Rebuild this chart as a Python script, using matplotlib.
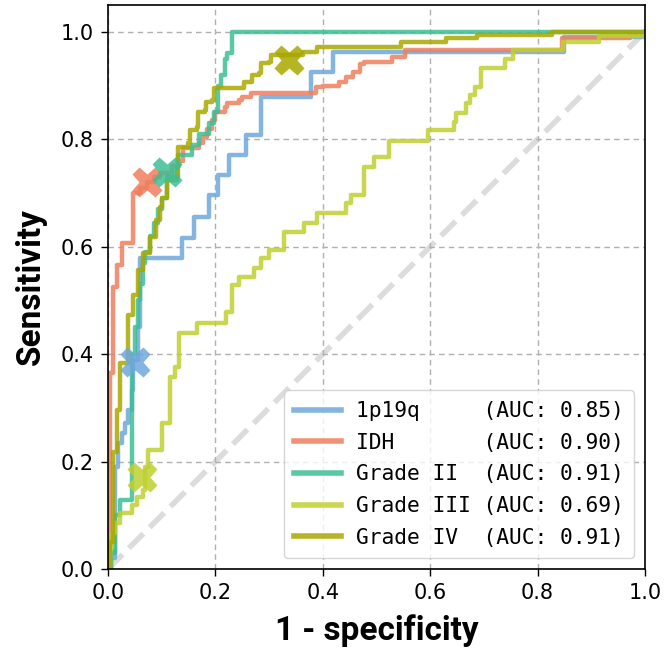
import matplotlib
matplotlib.use("Agg")
import matplotlib.pyplot as plt

# ---------------- data (ROC staircase corners: fpr, tpr) ----------------
names = ["1p19q", "IDH", "Grade II", "Grade III", "Grade IV"]
aucs = [0.85, 0.90, 0.91, 0.69, 0.91]
colors = ["#6fa8dc", "#ef7f5f", "#3dbd95", "#bfd130", "#a8a800"]

fpr_1p19q = [0.0, 0.005, 0.013, 0.019, 0.026, 0.031, 0.037, 0.044, 0.046, 0.055, 0.059,
             0.137, 0.161, 0.189, 0.204, 0.226, 0.257, 0.285, 0.378, 0.419, 0.85, 1.0]
tpr_1p19q = [0.0, 0.02, 0.19, 0.235, 0.253, 0.272, 0.296, 0.333, 0.39, 0.45, 0.579,
             0.616, 0.656, 0.696, 0.734, 0.771, 0.808, 0.879, 0.925, 0.963, 0.99, 1.0]

fpr_idh = [0.0, 0.003, 0.01, 0.017, 0.026, 0.046, 0.06, 0.072, 0.085, 0.096, 0.12, 0.133,
           0.139, 0.170, 0.176, 0.185, 0.193, 0.2, 0.217, 0.222, 0.244, 0.25, 0.267,
           0.387, 0.40, 0.43, 0.444, 0.457, 0.47, 0.476, 0.528, 0.554, 0.846, 0.972, 1.0]
tpr_idh = [0.0, 0.365, 0.525, 0.566, 0.607, 0.70, 0.71, 0.72, 0.73, 0.737, 0.75, 0.76,
           0.784, 0.793, 0.805, 0.82, 0.836, 0.85, 0.86, 0.868, 0.873, 0.879, 0.886,
           0.898, 0.90, 0.907, 0.916, 0.925, 0.94, 0.944, 0.954, 0.967, 0.989, 0.994, 1.0]

fpr_g2 = [0.0, 0.005, 0.013, 0.022, 0.045, 0.05, 0.055, 0.06, 0.065, 0.069, 0.078, 0.085,
          0.093, 0.1, 0.109, 0.13, 0.157, 0.17, 0.189, 0.198, 0.204, 0.211, 0.217, 0.222,
          0.23, 1.0]
tpr_g2 = [0.0, 0.03, 0.10, 0.128, 0.40, 0.45, 0.50, 0.53, 0.57, 0.59, 0.62, 0.645,
          0.67, 0.69, 0.73, 0.77, 0.79, 0.81, 0.83, 0.85, 0.90, 0.92, 0.95, 0.96,
          1.0, 1.0]

fpr_g3 = [0.0, 0.003, 0.007, 0.013, 0.022, 0.044, 0.054, 0.065, 0.068, 0.074, 0.1, 0.115,
          0.124, 0.132, 0.165, 0.22, 0.23, 0.244, 0.272, 0.285, 0.3, 0.328, 0.365, 0.389,
          0.443, 0.452, 0.476, 0.496, 0.524, 0.596, 0.645, 0.648, 0.667, 0.674, 0.683,
          0.695, 0.740, 0.755, 0.848, 0.915, 1.0]
tpr_g3 = [0.0, 0.04, 0.067, 0.086, 0.104, 0.119, 0.134, 0.147, 0.19, 0.222, 0.272, 0.358,
          0.376, 0.44, 0.458, 0.479, 0.529, 0.544, 0.56, 0.579, 0.594, 0.628, 0.644, 0.663,
          0.682, 0.696, 0.749, 0.767, 0.797, 0.817, 0.832, 0.849, 0.868, 0.883, 0.898,
          0.933, 0.949, 0.966, 0.981, 0.992, 1.0]

fpr_g4 = [0.0, 0.003, 0.01, 0.017, 0.022, 0.037, 0.046, 0.056, 0.065, 0.078, 0.09, 0.096,
          0.1, 0.109, 0.128, 0.13, 0.149, 0.152, 0.165, 0.167, 0.18, 0.183, 0.194, 0.198,
          0.254, 0.268, 0.281, 0.285, 0.30, 0.304, 0.363, 0.39, 0.545, 0.63, 0.687, 0.826,
          1.0]
tpr_g4 = [0.0, 0.05, 0.218, 0.296, 0.384, 0.473, 0.51, 0.557, 0.588, 0.618, 0.65, 0.674,
          0.69, 0.724, 0.749, 0.786, 0.793, 0.817, 0.823, 0.851, 0.855, 0.87, 0.873, 0.896,
          0.907, 0.92, 0.923, 0.942, 0.944, 0.957, 0.963, 0.972, 0.981, 0.989, 0.995, 1.0,
          1.0]

# operating points (X markers)
op_fpr = [0.05, 0.072, 0.11, 0.063, 0.337]
op_tpr = [0.385, 0.72, 0.74, 0.171, 0.948]

fprs = [fpr_1p19q, fpr_idh, fpr_g2, fpr_g3, fpr_g4]
tprs = [tpr_1p19q, tpr_idh, tpr_g2, tpr_g3, tpr_g4]

# ---------------- plot ----------------
fig = plt.figure(figsize=(6.67, 6.54), dpi=100)
ax = fig.add_axes([108 / 667, 85 / 654, 537 / 667, 564 / 654])

ax.plot([0, 1], [0, 1], linestyle="--", color="#dcdcdc", lw=4, zorder=1)

for name, auc, c, fx, ty in zip(names, aucs, colors, fprs, tprs):
    ax.plot(fx, ty, drawstyle="steps-post", color=c, lw=3.2, alpha=0.85,
            label=f"{name:<10}(AUC: {auc:.2f})", zorder=2)

for c, x, y in zip(colors, op_fpr, op_tpr):
    ax.plot([x], [y], marker="X", ms=22, color=c, mec="none", alpha=0.85,
            linestyle="none", zorder=3)

ax.set_xlim(0, 1)
ax.set_ylim(0, 1.05)
ax.set_xticks([0, 0.2, 0.4, 0.6, 0.8, 1.0])
ax.set_yticks([0, 0.2, 0.4, 0.6, 0.8, 1.0])
ax.tick_params(labelsize=15, length=5, width=1, color="black", pad=5)
ax.grid(True, linestyle=(0, (4, 3)), color="#b0b0b0", lw=1)
for s in ax.spines.values():
    s.set_color("black")
    s.set_linewidth(1.2)

ax.set_xlabel("1 - specificity", fontfamily="Roboto", fontweight="bold", fontsize=24, labelpad=8)
ax.set_ylabel("Sensitivity", fontfamily="Roboto", fontweight="bold", fontsize=24, labelpad=10)

leg = ax.legend(loc="lower right", prop={"family": "DejaVu Sans Mono", "size": 15.3},
                handlelength=2.2, frameon=True, fancybox=True, borderaxespad=0.5,
                labelspacing=0.55, handletextpad=0.7, borderpad=0.5)
leg.get_frame().set_edgecolor("#cccccc")
for h in leg.get_lines():
    h.set_linewidth(4)

fig.savefig("out.png", dpi=100)
